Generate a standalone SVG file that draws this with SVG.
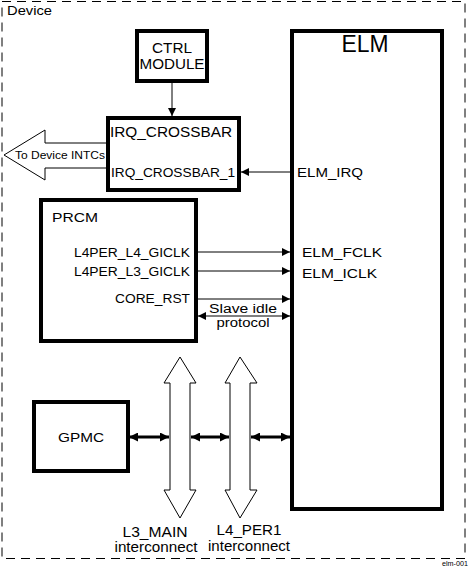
<svg xmlns="http://www.w3.org/2000/svg" width="473" height="572" viewBox="0 0 473 572">
<style>
text{font-family:"Liberation Sans",Arial,sans-serif;fill:#000}
.box{fill:#fff;stroke:#000;stroke-width:4}
.ln{stroke:#000;stroke-width:1;fill:none}
.thk{stroke:#000;stroke-width:3;fill:none}
.hol{fill:#fff;stroke:#000;stroke-width:1}
</style>
<defs>
<marker id="ah" viewBox="0 0 10 10" refX="10" refY="5" markerWidth="9" markerHeight="8" markerUnits="userSpaceOnUse" orient="auto-start-reverse"><path d="M0,0L10,5L0,10z" fill="#000"/></marker>
<marker id="ahb" viewBox="0 0 10 10" refX="10" refY="5" markerWidth="10" markerHeight="9" markerUnits="userSpaceOnUse" orient="auto-start-reverse"><path d="M0,0L10,5L0,10z" fill="#000"/></marker>
</defs>
<rect x="2" y="1.5" width="463" height="557" fill="none" stroke="#000" stroke-width="1" stroke-dasharray="9,6"/>
<text x="7" y="15" font-size="13" textLength="45" lengthAdjust="spacingAndGlyphs">Device</text>
<g id="ctrl"><rect class="box" x="137" y="31" width="70" height="50"/><text x="172" y="53" font-size="14" text-anchor="middle" textLength="40" lengthAdjust="spacingAndGlyphs">CTRL</text><text x="172" y="69" font-size="14" text-anchor="middle" textLength="65" lengthAdjust="spacingAndGlyphs">MODULE</text></g>
<g id="crossbar"><rect class="box" x="108" y="118" width="131" height="72"/><text x="110" y="137" font-size="14" textLength="122" lengthAdjust="spacingAndGlyphs">IRQ_CROSSBAR</text><text x="111" y="177" font-size="13" textLength="124" lengthAdjust="spacingAndGlyphs">IRQ_CROSSBAR_1</text></g>
<g id="intc"><path class="hol" d="M106,143H45V130L4,155L45,180V168H106"/><text x="15" y="159" font-size="10" textLength="90" lengthAdjust="spacingAndGlyphs">To Device INTCs</text></g>
<g id="elm"><rect class="box" x="292" y="31" width="150" height="478"/><text x="365" y="52" font-size="23" text-anchor="middle" textLength="47" lengthAdjust="spacingAndGlyphs">ELM</text><text x="297" y="177" font-size="13" textLength="66" lengthAdjust="spacingAndGlyphs">ELM_IRQ</text><text x="302" y="257" font-size="13" textLength="80" lengthAdjust="spacingAndGlyphs">ELM_FCLK</text><text x="302" y="278" font-size="13" textLength="75" lengthAdjust="spacingAndGlyphs">ELM_ICLK</text></g>
<g id="prcm"><rect class="box" x="41" y="200" width="155" height="141"/><text x="52" y="222" font-size="13" textLength="46" lengthAdjust="spacingAndGlyphs">PRCM</text><text x="190" y="257" font-size="12" text-anchor="end" textLength="116" lengthAdjust="spacingAndGlyphs">L4PER_L4_GICLK</text><text x="190" y="276" font-size="12" text-anchor="end" textLength="116" lengthAdjust="spacingAndGlyphs">L4PER_L3_GICLK</text><text x="190" y="303" font-size="12" text-anchor="end" textLength="75" lengthAdjust="spacingAndGlyphs">CORE_RST</text></g>
<g id="gpmc"><rect class="box" x="34" y="402" width="94" height="69"/><text x="81" y="442" font-size="13" text-anchor="middle" textLength="46" lengthAdjust="spacingAndGlyphs">GPMC</text></g>
<g id="l3main"><path class="hol" d="M180,357L196,383H190V490H196L180,518L164,490H170V383H164z"/><text x="155" y="537" font-size="14" text-anchor="middle" textLength="65" lengthAdjust="spacingAndGlyphs">L3_MAIN</text><text x="156" y="552" font-size="14" text-anchor="middle" textLength="83" lengthAdjust="spacingAndGlyphs">interconnect</text></g>
<g id="l4per1"><path class="hol" d="M240,357L257,383H250V490H257L240,518L225,490H230V383H225z"/><text x="249" y="535" font-size="14" text-anchor="middle" textLength="65" lengthAdjust="spacingAndGlyphs">L4_PER1</text><text x="249" y="551" font-size="14" text-anchor="middle" textLength="82" lengthAdjust="spacingAndGlyphs">interconnect</text></g>
<g id="connectors">
<line class="ln" x1="172" y1="82" x2="172" y2="116" marker-end="url(#ah)"/>
<line class="ln" x1="291" y1="172" x2="241" y2="172" marker-end="url(#ah)"/>
<line class="ln" x1="196" y1="252" x2="290" y2="252" marker-end="url(#ah)"/>
<line class="ln" x1="196" y1="271" x2="290" y2="271" marker-end="url(#ah)"/>
<line class="ln" x1="196" y1="299" x2="290" y2="299" marker-end="url(#ah)"/>
<line class="ln" x1="198" y1="316" x2="290" y2="316" marker-start="url(#ah)" marker-end="url(#ah)"/>
<text x="243" y="313" font-size="12" text-anchor="middle" textLength="68" lengthAdjust="spacingAndGlyphs">Slave idle</text>
<text x="243" y="327" font-size="12" text-anchor="middle" textLength="53" lengthAdjust="spacingAndGlyphs">protocol</text>
<line class="thk" x1="129" y1="437" x2="169" y2="437" marker-start="url(#ahb)" marker-end="url(#ahb)"/>
<line class="thk" x1="191" y1="437" x2="229" y2="437" marker-start="url(#ahb)" marker-end="url(#ahb)"/>
<line class="thk" x1="251" y1="437" x2="290" y2="437" marker-start="url(#ahb)" marker-end="url(#ahb)"/>
</g>
<text x="442" y="566" font-size="8" textLength="26" lengthAdjust="spacingAndGlyphs">elm-001</text>
</svg>
